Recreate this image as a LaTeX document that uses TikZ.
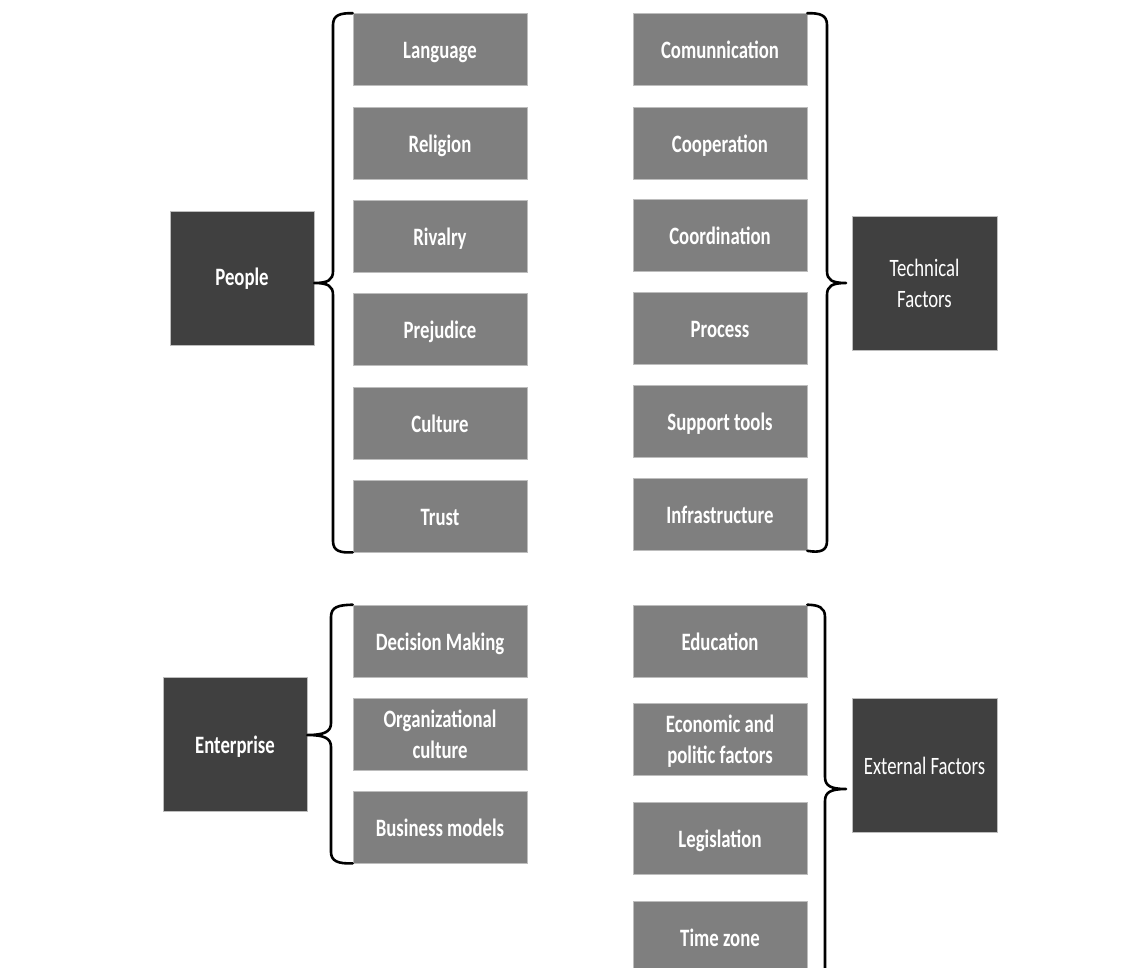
\documentclass[tikz,border=0pt]{standalone}
\usepackage{fontspec}
\setmainfont{Carlito}[FakeStretch=0.75]
\definecolor{subgray}{HTML}{7F7F7F}
\definecolor{maingray}{HTML}{404040}
\definecolor{edgegray}{HTML}{BDBDBD}
\tikzset{
  subbox/.style={fill=subgray, draw=edgegray, line width=0.6pt, minimum width=174pt, minimum height=72pt,
    inner sep=0pt, text=white, align=center, font=\fontsize{25}{31}\selectfont\bfseries,
    text height=18pt, text depth=0pt},
  mainbox/.style={fill=maingray, draw=edgegray, line width=0.6pt, minimum width=144pt, minimum height=134pt,
    inner sep=0pt, text=white, align=center, font=\fontsize{25}{31}\selectfont,
    text height=18pt, text depth=0pt},
  twoline/.style={text height=48pt, text depth=0pt},
  brace/.style={draw=black, line width=2.6pt, line join=round, line cap=round}
}
\begin{document}
\begin{tikzpicture}[x=1pt, y=-1pt]
\useasboundingbox (0,0) rectangle (1143,967);
\fill[white] (0,0) rectangle (1143,967);

% People group
\node[subbox] (lang)  at (440,49.5) {Language};
\node[subbox] (relig) at (440,143)  {Religion};
\node[subbox] (rival) at (440,236)  {Rivalry};
\node[subbox] (prej)  at (440,329)  {Prejudice};
\node[subbox] (cult)  at (440,423)  {Culture};
\node[subbox] (trust) at (440,516)  {Trust};
\node[mainbox, font=\fontsize{25}{31}\selectfont\bfseries, text height=15pt] (people) at (242,278) {People};

% Technical group
\node[subbox] (comm)  at (720,49.5) {Comunnication};
\node[subbox] (coop)  at (720,143)  {Cooperation};
\node[subbox] (coord) at (720,235.5){Coordination};
\node[subbox] (proc)  at (720,328)  {Process};
\node[subbox] (supp)  at (720,421)  {Support tools};
\node[subbox] (infra) at (720,514.5){Infrastructure};
\node[mainbox, twoline, minimum width=145pt] (tech) at (924.5,283) {Technical\\Factors};

% Enterprise group
\node[subbox] (dm)    at (440,641) {Decision Making};
\node[subbox, twoline] (org) at (440,734) {Organizational\\culture};
\node[subbox] (bm)    at (440,827) {Business models};
\node[mainbox, font=\fontsize{25}{31}\selectfont\bfseries] (ent) at (235,744) {Enterprise};

% External group
\node[subbox] (edu)   at (720,641)   {Education};
\node[subbox, twoline] (econ) at (720,739.5) {Economic and\\politic factors};
\node[subbox] (legis) at (720,838)   {Legislation};
\node[subbox] (tz)    at (720,937)   {Time zone};
\node[mainbox, minimum width=145pt] (ext) at (924.5,765) {External Factors};

% Brace coordinates
\coordinate (ptip) at (people.east |- 0,283);
\coordinate (ttip) at (846,283);
\coordinate (etip) at (ent.east |- 0,735);
\coordinate (xtip) at (846,789);
\coordinate (xend) at (825,985);

% People brace
\draw[brace] (lang.north west) .. controls (340,13) and (333,15) .. (333,25)
  -- (333,271) .. controls (333,280) and (328,283) .. (ptip)
  .. controls (328,283) and (333,286) .. (333,295)
  -- (333,541) .. controls (333,551) and (340,553) .. (trust.south west);

% Technical brace
\draw[brace] (comm.north east) .. controls (820,13) and (827,15) .. (827,25)
  -- (827,271) .. controls (827,280) and (832,283) .. (ttip)
  .. controls (832,283) and (827,286) .. (827,295)
  -- (827,541) .. controls (827,551) and (820,553) .. (infra.south east);

% Enterprise brace
\draw[brace] (dm.north west) .. controls (338,605) and (331,607) .. (331,617)
  -- (331,723) .. controls (331,732) and (324,735) .. (etip)
  .. controls (324,735) and (331,738) .. (331,747)
  -- (331,852) .. controls (331,861) and (338,864) .. (bm.south west);

% External brace
\draw[brace] (edu.north east) .. controls (818,605) and (825,607) .. (825,617)
  -- (825,777) .. controls (825,786) and (831,789) .. (xtip)
  .. controls (831,789) and (825,792) .. (825,801)
  -- (xend);
\end{tikzpicture}
\end{document}
